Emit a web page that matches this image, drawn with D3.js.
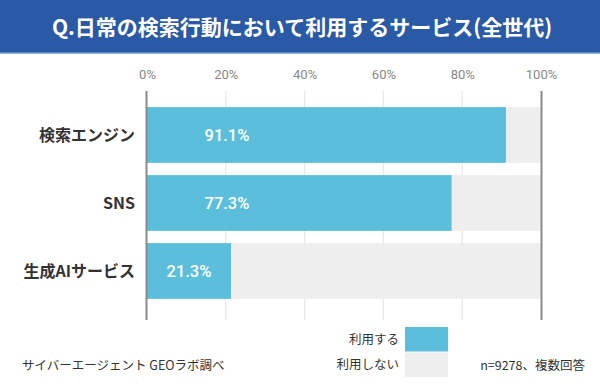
<!DOCTYPE html>
<html>
<head>
<meta charset="utf-8">
<script src="https://cdn.jsdelivr.net/npm/d3@7"></script>
<style>
  body { margin: 0; background: #fff; }
  text { font-family: "Noto Sans CJK JP", "Noto Sans", sans-serif; }
</style>
</head>
<body>
<div id="chart"></div>
<script>
// data
const categories = ['検索エンジン', 'SNS', '生成AIサービス'];
const useValues = [91.1, 77.3, 21.3];
const tickValues = [0, 20, 40, 60, 80, 100];
const legendLabels = ['利用する', '利用しない'];
const colors = ['#5bbfdb', '#eeeeee'];

const W = 600, H = 388;
const svg = d3.select('#chart').append('svg')
    .attr('width', W)
    .attr('height', H);

// title band
svg.append('rect')
    .attr('x', 0).attr('y', 0)
    .attr('width', W).attr('height', 53)
    .attr('fill', '#2a59a6');
svg.append('rect')
    .attr('x', 0).attr('y', 52.5)
    .attr('width', W).attr('height', 1.5)
    .attr('fill', '#8fb3e0');
svg.append('text')
    .attr('x', W / 2 + 2)
    .attr('y', 27)
    .attr('dy', '0.36em')
    .attr('text-anchor', 'middle')
    .attr('fill', '#fff')
    .style('font-size', '21px')
    .style('font-weight', 'bold')
    .text('Q.日常の検索行動において利用するサービス(全世代)');

const xScale = d3.scaleLinear()
    .domain([0, 100])
    .range([147, 541]);

const yScale = d3.scaleBand()
    .domain(categories)
    .range([101, 305])
    .paddingInner(0.18)
    .paddingOuter(0.09);

// gridlines
svg.append('g')
    .selectAll('line')
    .data(tickValues.slice(1, -1))
    .enter()
    .append('line')
    .attr('x1', d => xScale(d))
    .attr('x2', d => xScale(d))
    .attr('y1', 91)
    .attr('y2', 320)
    .attr('stroke', '#e8e8e8')
    .attr('stroke-width', 1.2);

// top axis labels
const xAxis = d3.axisTop(xScale)
    .tickValues(tickValues)
    .tickSize(0)
    .tickFormat(d => d + '%');
const ax = svg.append('g')
    .attr('transform', 'translate(0, 82)')
    .call(xAxis);
ax.select('.domain').remove();
ax.selectAll('text')
    .attr('fill', '#888')
    .style('font-family', 'Roboto, sans-serif')
    .style('font-size', '13px');

// background bars
svg.selectAll('.bg')
    .data(categories)
    .enter()
    .append('rect')
    .attr('class', 'bg')
    .attr('x', xScale(0))
    .attr('y', d => yScale(d))
    .attr('width', xScale(100) - xScale(0))
    .attr('height', yScale.bandwidth())
    .attr('fill', colors[1]);

// value bars
svg.selectAll('.bar')
    .data(useValues)
    .enter()
    .append('rect')
    .attr('class', 'bar')
    .attr('x', xScale(0))
    .attr('y', (d, i) => yScale(categories[i]))
    .attr('width', d => xScale(d) - xScale(0))
    .attr('height', yScale.bandwidth())
    .attr('fill', colors[0]);

// value labels
svg.selectAll('.val')
    .data(useValues)
    .enter()
    .append('text')
    .attr('class', 'val')
    .attr('x', d => xScale(Math.min(d / 2, 20.3)))
    .attr('y', (d, i) => yScale(categories[i]) + yScale.bandwidth() / 2)
    .attr('dy', '0.36em')
    .attr('text-anchor', 'middle')
    .attr('fill', '#fff')
    .style('font-family', 'Roboto, sans-serif')
    .style('font-size', '16.5px')
    .style('font-weight', '500')
    .text(d => d.toFixed(1) + '%');

// category labels
svg.selectAll('.cat')
    .data(categories)
    .enter()
    .append('text')
    .attr('class', 'cat')
    .attr('x', 135)
    .attr('y', d => yScale(d) + yScale.bandwidth() / 2)
    .attr('dy', '0.36em')
    .attr('text-anchor', 'end')
    .attr('fill', '#333')
    .style('font-size', '16px')
    .style('font-weight', 'bold')
    .text(d => d);

// 0% and 100% lines
svg.selectAll('.edge')
    .data([0, 100])
    .enter()
    .append('line')
    .attr('x1', d => xScale(d) + (d === 0 ? -0.5 : 0.5))
    .attr('x2', d => xScale(d) + (d === 0 ? -0.5 : 0.5))
    .attr('y1', 91)
    .attr('y2', 320)
    .attr('stroke', '#8a8a8a')
    .attr('stroke-width', 2);

// legend
const legend = svg.selectAll('.leg')
    .data(legendLabels)
    .enter()
    .append('g')
    .attr('transform', (d, i) => `translate(405, ${327 + i * 25.5})`);
legend.append('rect')
    .attr('width', 43)
    .attr('height', 24.5)
    .attr('fill', (d, i) => colors[i]);
legend.append('text')
    .attr('x', -6)
    .attr('y', 12)
    .attr('dy', '0.36em')
    .attr('text-anchor', 'end')
    .attr('fill', '#333')
    .style('font-size', '12.5px')
    .text(d => d);

// footnotes
svg.append('text')
    .attr('x', 22)
    .attr('y', 365)
    .attr('dy', '0.36em')
    .attr('fill', '#333')
    .style('font-size', '12.5px')
    .text('サイバーエージェント GEOラボ調べ');
svg.append('text')
    .attr('x', 585)
    .attr('y', 365)
    .attr('dy', '0.36em')
    .attr('text-anchor', 'end')
    .attr('fill', '#333')
    .style('font-size', '12.5px')
    .text('n=9278、複数回答');
</script>
</body>
</html>
